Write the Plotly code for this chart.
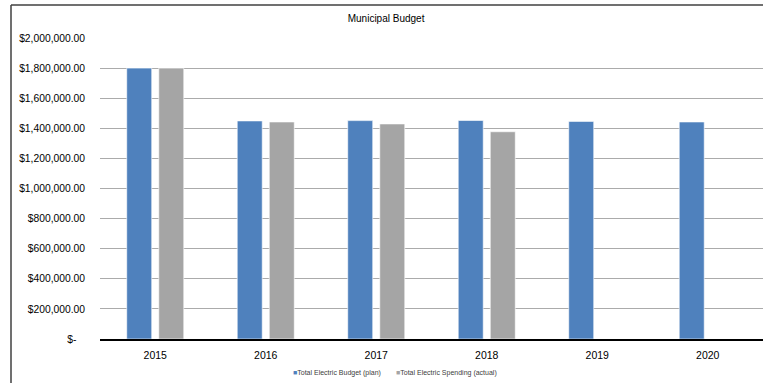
import plotly.graph_objects as go

# values
years = ["2015", "2016", "2017", "2018", "2019", "2020"]
budgetPlan = [1800000, 1449000, 1451000, 1452000, 1446000, 1442000]
spendingActual = [1800000, 1442000, 1429000, 1377000, None, None]
tickValues = [0, 200000, 400000, 600000, 800000, 1000000, 1200000, 1400000, 1600000, 1800000, 2000000]
tickLabels = ["$-\u00a0\u00a0\u00a0", "$200,000.00", "$400,000.00", "$600,000.00", "$800,000.00",
              "$1,000,000.00", "$1,200,000.00", "$1,400,000.00", "$1,600,000.00",
              "$1,800,000.00", "$2,000,000.00"]

fontName = "Liberation Sans, Arial, sans-serif"
planColor = "#4F81BD"
actualColor = "#A5A5A5"

fig = go.Figure()
fig.add_trace(go.Bar(x=years, y=budgetPlan, name="Total Electric Budget (plan)",
                     marker=dict(color=planColor, line=dict(color="rgba(255,255,255,0.6)", width=1))))
fig.add_trace(go.Bar(x=years, y=spendingActual, name="Total Electric Spending (actual)",
                     marker=dict(color=actualColor, line=dict(color="rgba(255,255,255,0.6)", width=1))))

fig.update_layout(
    width=763, height=383,
    margin=dict(l=100, r=0, t=38, b=44),
    paper_bgcolor="white", plot_bgcolor="white",
    font=dict(family=fontName, size=10, color="#404040"),
    title=dict(text="Municipal Budget", x=0.506, xref="container", y=1 - 18 / 383,
               yref="container", yanchor="middle", xanchor="center",
               font=dict(family=fontName, size=10, color="#000000")),
    barmode="group", bargap=0.42, bargroupgap=0.22,
    showlegend=False,
)

fig.update_xaxes(type="category", showgrid=False, showline=True, linecolor="#000000", linewidth=1.5,
                 ticks="", ticklabelstandoff=6, tickfont=dict(size=10.5, color="#000000"))
fig.update_yaxes(range=[0, 2000000], tickvals=tickValues, ticktext=tickLabels,
                 showgrid=True, gridcolor="#ABABAB", gridwidth=1, zeroline=False,
                 showline=False, ticks="", ticklabelstandoff=14,
                 tickfont=dict(size=10.3, color="#000000"))

# small Excel-style legend below the axis
legendItems = [(fig.data[0].name, planColor, 0.357), (fig.data[1].name, actualColor, 0.522)]
for label, color, xpos in legendItems:
    fig.add_annotation(text=f"<span style='color:{color}'>\u25A0</span>{label}",
                       xref="paper", yref="paper", x=xpos, y=-0.113,
                       xanchor="center", yanchor="middle", showarrow=False,
                       font=dict(size=7, color="#404040"))

# outer chart border (left and top edges visible in the reference crop)
fig.add_shape(type="line", xref="paper", yref="paper", x0=(11 - 100) / 663, x1=1.0,
              y0=1 + 33 / 301, y1=1 + 33 / 301, line=dict(color="#404040", width=1.5))
fig.add_shape(type="line", xref="paper", yref="paper", x0=(11 - 100) / 663, x1=(11 - 100) / 663,
              y0=1 + 33 / 301, y1=-0.2, line=dict(color="#404040", width=1.5))

fig.write_html("out.html", config={"displayModeBar": False},
               post_script="document.body.style.margin='0';document.body.style.overflow='hidden';")
